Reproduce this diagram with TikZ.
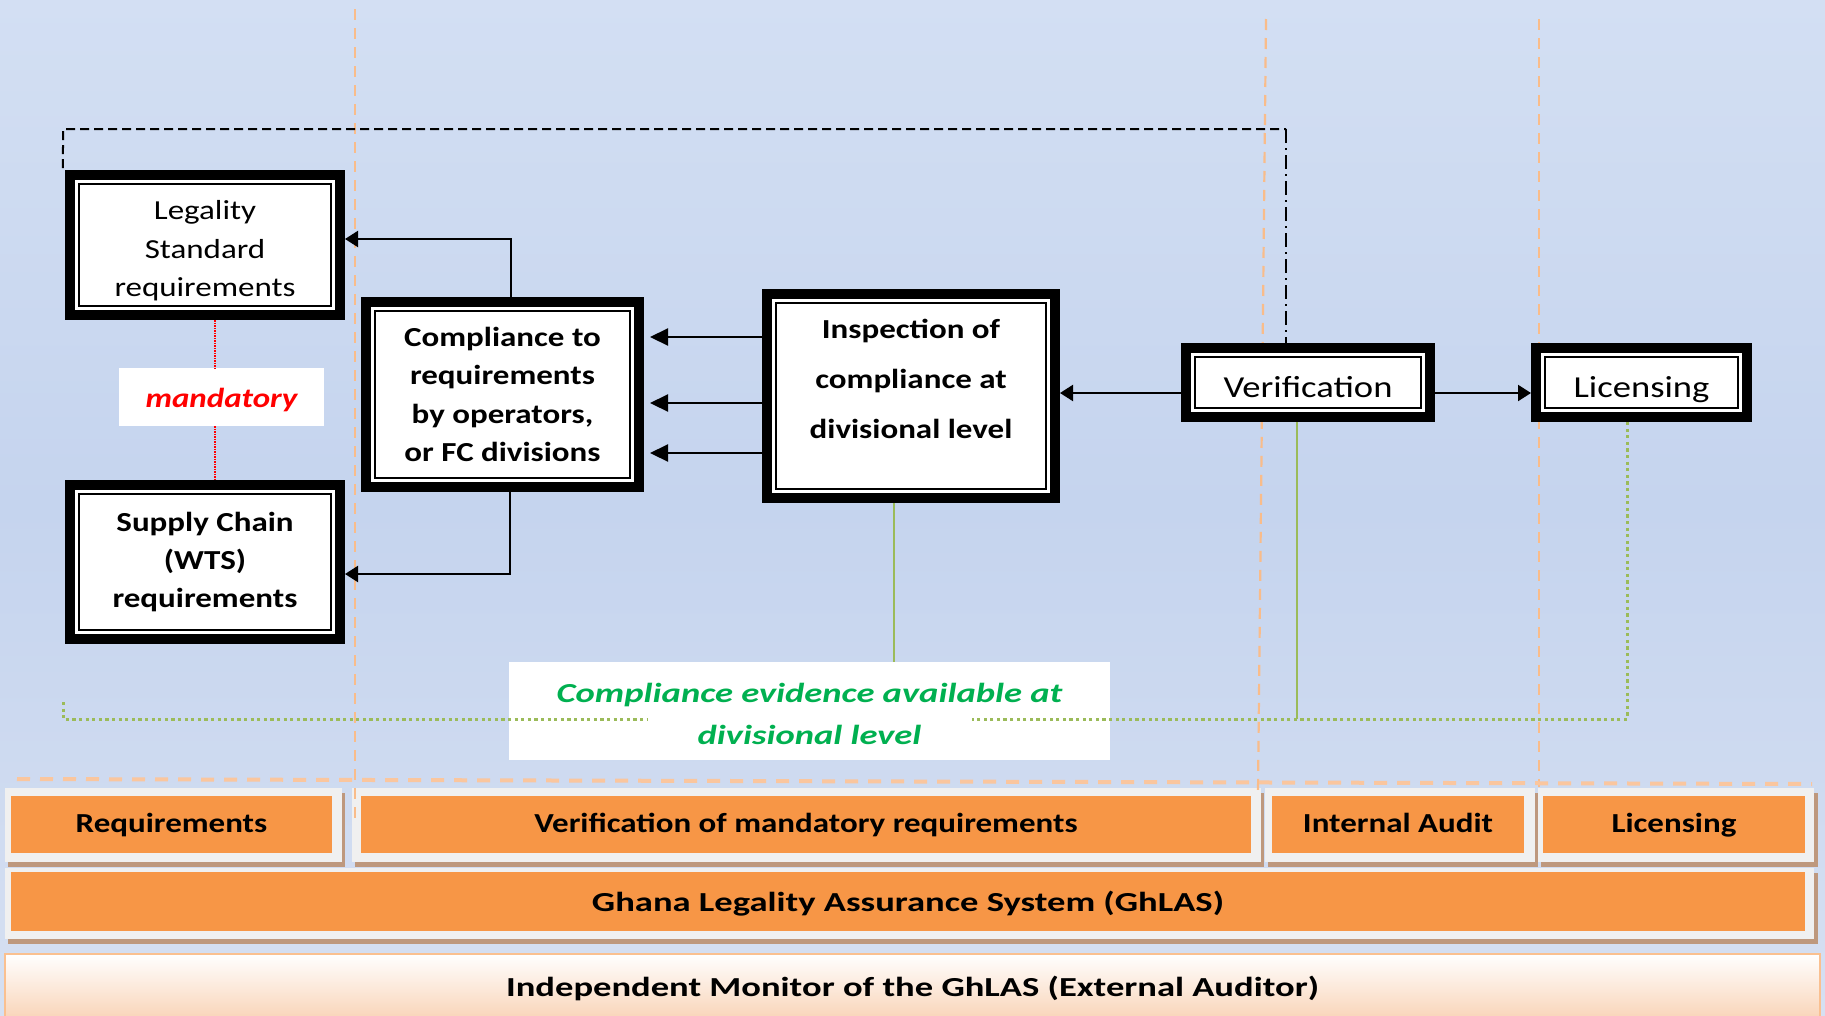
\documentclass[tikz,border=0pt]{standalone}
\usepackage{fontspec}
\setmainfont{Carlito}[FakeStretch=1.2]
\newfontfamily\widefont{Carlito}[FakeStretch=1.33]
\usetikzlibrary{arrows.meta}
\definecolor{bgtop}{RGB}{211,223,243}
\definecolor{bgmid}{RGB}{197,212,238}
\definecolor{bgbot}{RGB}{214,224,242}
\definecolor{bandorange}{RGB}{247,150,70}
\definecolor{panelgrey}{RGB}{240,240,240}
\definecolor{shadowbrown}{RGB}{190,152,125}
\definecolor{orangel}{RGB}{249,188,138}
\definecolor{orangeh}{RGB}{250,198,158}
\definecolor{greenl}{RGB}{155,187,89}
\definecolor{greentxt}{RGB}{0,176,80}
\definecolor{monborder}{RGB}{250,192,144}
\definecolor{peach}{RGB}{249,212,184}
\begin{document}
\begin{tikzpicture}[x=1bp,y=-1bp,
  every node/.style={font=\fontsize{27.5bp}{38.4bp}\selectfont},
  frame/.style={draw=black, line width=10bp, fill=white, inner sep=0pt, outer sep=5bp, align=center,
    path picture={\draw[line width=2bp,black] ([xshift=9bp,yshift=-9bp]path picture bounding box.north west) rectangle ([xshift=-9bp,yshift=9bp]path picture bounding box.south east);}},
  boldtxt/.style={font=\fontsize{27.5bp}{38.4bp}\selectfont\bfseries},
  band/.style={fill=bandorange, inner sep=0pt, text height=21bp, text depth=6bp, font=\fontsize{27.5bp}{33bp}\selectfont\bfseries},
  arr/.style={line width=2.2bp, -{Triangle[length=13bp,width=16bp]}},
  bigarr/.style={line width=2.2bp, -{Triangle[length=18bp,width=17bp]}, shorten >=6bp},
  blackdash/.style={line width=2bp, dash pattern=on 9bp off 5bp},
  blackdashdot/.style={line width=2bp, dash pattern=on 14bp off 5bp on 2bp off 5bp},
  reddot/.style={draw=red, line width=1.6bp, dash pattern=on 1.5bp off 1bp},
  gline/.style={draw=greenl, line width=1.6bp},
  gdot/.style={draw=greenl, line width=3bp, dash pattern=on 3.2bp off 3.4bp},
  odash/.style={draw=orangel, line width=2.2bp, dash pattern=on 11bp off 8bp},
  odashh/.style={draw=orangeh, line width=4bp, dash pattern=on 13bp off 10bp}]
\useasboundingbox (0,0) rectangle (1825,1015);
% background
\fill[top color=bgtop, bottom color=bgbot, middle color=bgmid] (0,0) rectangle (1825,1015);

% bottom bands: shadows and grey panels
\fill[shadowbrown] (8,793) rectangle (345,867);
\fill[panelgrey] (5,788) rectangle (342,862);
\fill[shadowbrown] (355,793) rectangle (1264,867);
\fill[panelgrey] (352,788) rectangle (1261,862);
\fill[shadowbrown] (1268,793) rectangle (1538,867);
\fill[panelgrey] (1265,788) rectangle (1535,862);
\fill[shadowbrown] (1541,793) rectangle (1818,867);
\fill[panelgrey] (1538,788) rectangle (1814,862);
\fill[shadowbrown] (8,873) rectangle (1818,944);
\fill[panelgrey] (5,868) rectangle (1814,939);

\node[band, minimum width=321bp, minimum height=57bp] (ReqBand) at (171.5,824.5) {Requirements};
\node[band, minimum width=890bp, minimum height=57bp] (VerBand) at (806,824.5) {Verification of mandatory requirements};
\node[band, minimum width=252bp, minimum height=57bp] (AuditBand) at (1398,824.5) {Internal Audit};
\node[band, minimum width=262bp, minimum height=57bp] (LicBand) at (1674,824.5) {Licensing};
\node[band, minimum width=1794bp, minimum height=59bp, text height=25bp, text depth=6bp,
  font=\widefont\fontsize{27.5bp}{33bp}\selectfont\bfseries] (GhLAS) at (908,901.5) {Ghana Legality Assurance System (GhLAS)};
\node[draw=monborder, line width=2bp, top color=white, bottom color=peach, inner sep=0pt,
  minimum width=1815bp, minimum height=65bp, text height=25bp, text depth=6bp,
  font=\widefont\fontsize{27.5bp}{33bp}\selectfont\bfseries] (Monitor) at (912.5,986.5) {Independent Monitor of the GhLAS (External Auditor)};

% orange dashed dividers
\draw[odash] (355,9) -- (355,822);
\draw[odash] (1266,19) -- (1258,792);
\draw[odash] (1539,19) -- (1539,787);
\draw[odashh] (17,779) -- (1812,784);

% boxes
\node[frame, minimum width=270bp, minimum height=140bp] (Legality) at (205,245) {};
\node[align=center] (LegalityText) at (205,251) {Legality\\Standard\\requirements};
\node[frame, boldtxt, minimum width=270bp, minimum height=154bp] (Supply) at (205,562) {Supply Chain\\(WTS)\\requirements};
\node[frame, boldtxt, minimum width=273bp, minimum height=185bp] (Compliance) at (502.5,394.5) {Compliance to\\requirements\\by operators,\\or FC divisions};
\node[frame, minimum width=288bp, minimum height=204bp] (Inspection) at (911,396) {};
\node[align=center, font=\fontsize{27.5bp}{50bp}\selectfont\bfseries] (InspectionText) at (911,379) {Inspection of\\compliance at\\divisional level};
\node[frame, minimum width=244bp, minimum height=69bp, text height=30bp, text depth=0bp, font=\fontsize{30.5bp}{36bp}\selectfont] (Verification) at (1308,382.5) {Verification};
\node[frame, minimum width=211bp, minimum height=69bp, text height=30bp, text depth=0bp, font=\fontsize{30.5bp}{36bp}\selectfont] (Licensing) at (1641.5,382.5) {Licensing};

\node[fill=white, inner sep=0pt, minimum width=205bp, minimum height=58bp, text=red, text height=26bp, text depth=5.2bp,
  font=\fontsize{27.5bp}{33bp}\selectfont\bfseries\itshape] (Mandatory) at (221.5,397) {mandatory};
\node[fill=white, inner sep=0pt, minimum width=601bp, minimum height=98bp] (Evidence) at (809.5,711) {};
\node[text=greentxt, align=center, font=\widefont\fontsize{27.5bp}{42bp}\selectfont\bfseries\itshape] (EvidenceText) at (809.5,713.5) {Compliance evidence available at\\divisional level};

% black dashed feedback line
\coordinate (DTopL) at (63,129);
\coordinate (DTopR) at (1286,129);
\draw[blackdash] ([xshift=-2bp,yshift=2bp]Legality.north west) -- (DTopL) -- (DTopR);
\draw[blackdashdot] (DTopR) -- (DTopR |- Verification.north);

% arrows
\draw[arr] ([yshift=-10.5bp]Verification.west) -- ([yshift=-10.5bp]Verification.west -| Inspection.east);
\draw[arr] ([yshift=-10.5bp]Verification.east) -- ([yshift=-10.5bp]Verification.east -| Licensing.west);
\draw[bigarr] (Inspection.west |- 0,337) -- (Compliance.east |- 0,337);
\draw[bigarr] (Inspection.west |- 0,403) -- (Compliance.east |- 0,403);
\draw[bigarr] (Inspection.west |- 0,453) -- (Compliance.east |- 0,453);
\draw[arr] ([xshift=8.5bp]Compliance.north) |- ([yshift=6bp]Legality.east);
\draw[arr] ([xshift=7.5bp]Compliance.south) |- ([yshift=-12bp]Supply.east);

% red dotted mandatory link
\draw[reddot] ([xshift=10bp]Legality.south) -- ([xshift=10bp]Legality.south |- Mandatory.north);
\draw[reddot] ([xshift=10bp]Supply.north |- Mandatory.south) -- ([xshift=10bp]Supply.north);

% green evidence lines
\coordinate (GL) at (63,702);
\coordinate (GLc) at (63,719);
\coordinate (GA) at (648,719);
\coordinate (GB) at (972,719);
\draw[gline] ([xshift=-17bp]Inspection.south) -- ([xshift=-17bp]Inspection.south |- Evidence.north);
\draw[gline] ([xshift=-11bp]Verification.south) -- ([xshift=-11bp]Verification.south |- GB);
\draw[gdot] (GL) -- (GLc) -- (GA);
\draw[gdot] ([xshift=-14.5bp]Licensing.south) -- ([xshift=-14.5bp]Licensing.south |- GB) -- (GB);
\end{tikzpicture}
\end{document}
